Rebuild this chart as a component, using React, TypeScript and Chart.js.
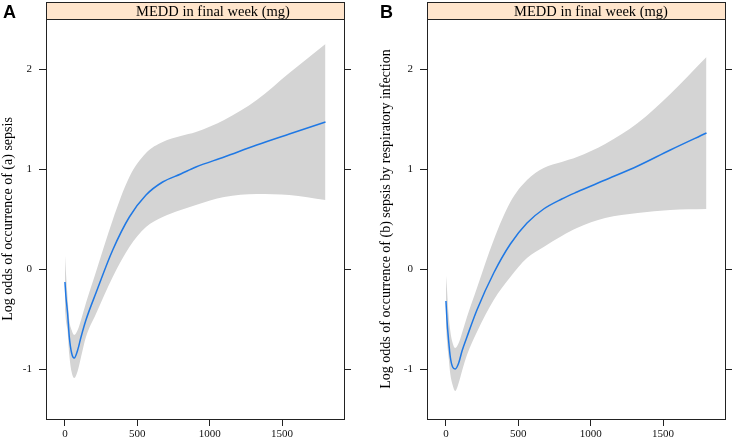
import React, { useEffect, useRef } from 'react';
import { Chart, registerables } from 'chart.js';

Chart.register(...registerables);

// MEDD in final week (mg) – sample positions along the fitted curve
const doseMg = [0, 7, 18, 30, 46, 64, 88, 111, 145, 214, 330, 445, 560, 675, 800, 905, 1100, 1325, 1550, 1800];

// Panel A: log odds of occurrence of (a) sepsis
const fitA = [-0.13, -0.28, -0.44, -0.68, -0.84, -0.89, -0.81, -0.68, -0.51, -0.24, 0.19, 0.52, 0.74, 0.87, 0.95, 1.02, 1.12, 1.24, 1.35, 1.47];
const upperA = [0.14, -0.04, -0.28, -0.51, -0.61, -0.66, -0.61, -0.51, -0.34, -0.03, 0.49, 0.92, 1.16, 1.27, 1.33, 1.37, 1.49, 1.69, 1.96, 2.25];
const lowerA = [-0.4, -0.52, -0.62, -0.86, -1.03, -1.09, -1.02, -0.88, -0.68, -0.45, -0.08, 0.22, 0.42, 0.52, 0.59, 0.64, 0.72, 0.75, 0.74, 0.69];

// Panel B: log odds of occurrence of (b) sepsis by respiratory infection
const fitB = [-0.32, -0.51, -0.71, -0.88, -0.98, -1.0, -0.94, -0.82, -0.68, -0.41, -0.04, 0.25, 0.46, 0.6, 0.7, 0.77, 0.89, 1.03, 1.19, 1.36];
const upperB = [-0.06, -0.2, -0.45, -0.62, -0.74, -0.79, -0.74, -0.64, -0.48, -0.19, 0.29, 0.67, 0.89, 1.01, 1.07, 1.12, 1.25, 1.46, 1.75, 2.12];
const lowerB = [-0.58, -0.72, -0.88, -1.05, -1.16, -1.22, -1.14, -1.02, -0.86, -0.63, -0.31, -0.08, 0.11, 0.22, 0.33, 0.41, 0.51, 0.56, 0.59, 0.6];

const xTicks = [0, 500, 1000, 1500];
const yTicks = [-1, 0, 1, 2];
const stripLabel = 'MEDD in final week (mg)';
const yTitleA = 'Log odds of occurrence of (a) sepsis';
const yTitleB = 'Log odds of occurrence of (b) sepsis by respiratory infection';

const SERIF = '"Liberation Serif", "Times New Roman", serif';
const AXIS_COLOR = '#222';

type PanelProps = {
  left: number;
  width: number;
  leftAxisW: number;
  rightAxisW: number;
  titlePad: number;
  stripShift: number;
  fit: number[];
  upper: number[];
  lower: number[];
  yTitle: string;
  letter: string;
  letterLeft: number;
};

const stripPlugin = {
  id: 'latticeStrip',
  afterDraw(chart: any, _args: any, opts: any) {
    const { ctx, chartArea } = chart;
    const l = Math.round(chartArea.left);
    const r = Math.round(chartArea.right);
    const t = Math.round(chartArea.top);
    const b = Math.round(chartArea.bottom);
    ctx.save();
    ctx.fillStyle = '#ffe5cc';
    ctx.fillRect(l, 2, r - l, t - 2);
    ctx.strokeStyle = AXIS_COLOR;
    ctx.lineWidth = 1;
    ctx.strokeRect(l + 0.5, 2.5, r - l, t - 2);
    ctx.strokeRect(l + 0.5, t + 0.5, r - l, b - t);
    ctx.fillStyle = '#000';
    ctx.font = `14.5px ${SERIF}`;
    ctx.textAlign = 'center';
    ctx.textBaseline = 'alphabetic';
    ctx.fillText(opts.text, (l + r) / 2 + (opts.shift || 0), 15.5);
    ctx.restore();
  },
};

function Panel(p: PanelProps) {
  const ref = useRef<HTMLCanvasElement | null>(null);
  useEffect(() => {
    if (!ref.current) return;
    const pts = (ys: number[]) => doseMg.map((x, i) => ({ x, y: ys[i] }));
    const tickFont = { family: SERIF, size: 11 };
    const setTicks = (vals: number[]) => (scale: any) => {
      scale.ticks = vals.map((v) => ({ value: v }));
    };
    const plain = (v: any) => String(v);
    const chart = new Chart(ref.current, {
      type: 'line',
      data: {
        datasets: [
          {
            data: pts(p.fit),
            borderWidth: 1.5,
            pointRadius: 0,
            borderColor: '#1f78e4',
            fill: false,
            cubicInterpolationMode: 'monotone',
          },
          {
            data: pts(p.upper),
            borderWidth: 0,
            pointRadius: 0,
            backgroundColor: '#d4d4d4',
            borderColor: 'rgba(0,0,0,0)',
            fill: '+1',
            cubicInterpolationMode: 'monotone',
          },
          {
            data: pts(p.lower),
            borderWidth: 0,
            pointRadius: 0,
            backgroundColor: '#d4d4d4',
            borderColor: 'rgba(0,0,0,0)',
            fill: false,
            cubicInterpolationMode: 'monotone',
          },
        ],
      },
      options: {
        animation: false,
        responsive: false,
        maintainAspectRatio: false,
        layout: { padding: { top: 19, left: 0, right: 0, bottom: 0 } },
        plugins: {
          legend: { display: false },
          tooltip: { enabled: false },
          latticeStrip: { text: stripLabel, shift: p.stripShift },
        } as any,
        scales: {
          x: {
            type: 'linear',
            position: 'bottom',
            min: -131,
            max: 1928,
            afterBuildTicks: setTicks(xTicks),
            afterFit: (s: any) => {
              s.height = 20;
            },
            grid: { drawOnChartArea: false, drawTicks: true, tickLength: 7, color: AXIS_COLOR },
            border: { display: false },
            ticks: { font: tickFont, color: '#111', padding: 2, maxRotation: 0, callback: plain },
          },
          y: {
            type: 'linear',
            position: 'left',
            min: -1.5,
            max: 2.5,
            afterBuildTicks: setTicks(yTicks),
            afterFit: (s: any) => {
              s.width = p.leftAxisW;
            },
            grid: { drawOnChartArea: false, drawTicks: true, tickLength: 7, color: AXIS_COLOR },
            border: { display: false },
            ticks: { font: tickFont, color: '#111', padding: 7, callback: plain },
            title: {
              display: true,
              text: p.yTitle,
              font: { family: SERIF, size: 14 },
              color: '#000',
              padding: { top: p.titlePad, bottom: 0 },
            },
          },
          y2: {
            type: 'linear',
            position: 'right',
            min: -1.5,
            max: 2.5,
            afterBuildTicks: setTicks(yTicks),
            afterFit: (s: any) => {
              s.width = p.rightAxisW;
            },
            grid: { drawOnChartArea: false, drawTicks: true, tickLength: 7, color: AXIS_COLOR },
            border: { display: false },
            ticks: { display: false },
          },
        },
      } as any,
      plugins: [stripPlugin as any],
    });
    return () => chart.destroy();
  }, []);
  return (
    <>
      <canvas
        ref={ref}
        width={p.width}
        height={439}
        style={{ position: 'absolute', left: p.left, top: 0, width: p.width, height: 439 }}
      />
      <div
        style={{
          position: 'absolute',
          left: p.letterLeft,
          top: 3,
          font: 'bold 18px "Liberation Sans", Arial, sans-serif',
          lineHeight: '18px',
          color: '#000',
        }}
      >
        {p.letter}
      </div>
    </>
  );
}

export default function App() {
  return (
    <div style={{ position: 'absolute', left: 0, top: 0, width: 735, height: 439, background: '#fff', overflow: 'hidden' }}>
      <Panel
        left={0}
        width={367}
        leftAxisW={46}
        rightAxisW={23}
        titlePad={0}
        stripShift={18}
        fit={fitA}
        upper={upperA}
        lower={lowerA}
        yTitle={yTitleA}
        letter="A"
        letterLeft={3}
      />
      <Panel
        left={367}
        width={368}
        leftAxisW={60}
        rightAxisW={10}
        titlePad={11}
        stripShift={15}
        fit={fitB}
        upper={upperB}
        lower={lowerB}
        yTitle={yTitleB}
        letter="B"
        letterLeft={380}
      />
    </div>
  );
}
